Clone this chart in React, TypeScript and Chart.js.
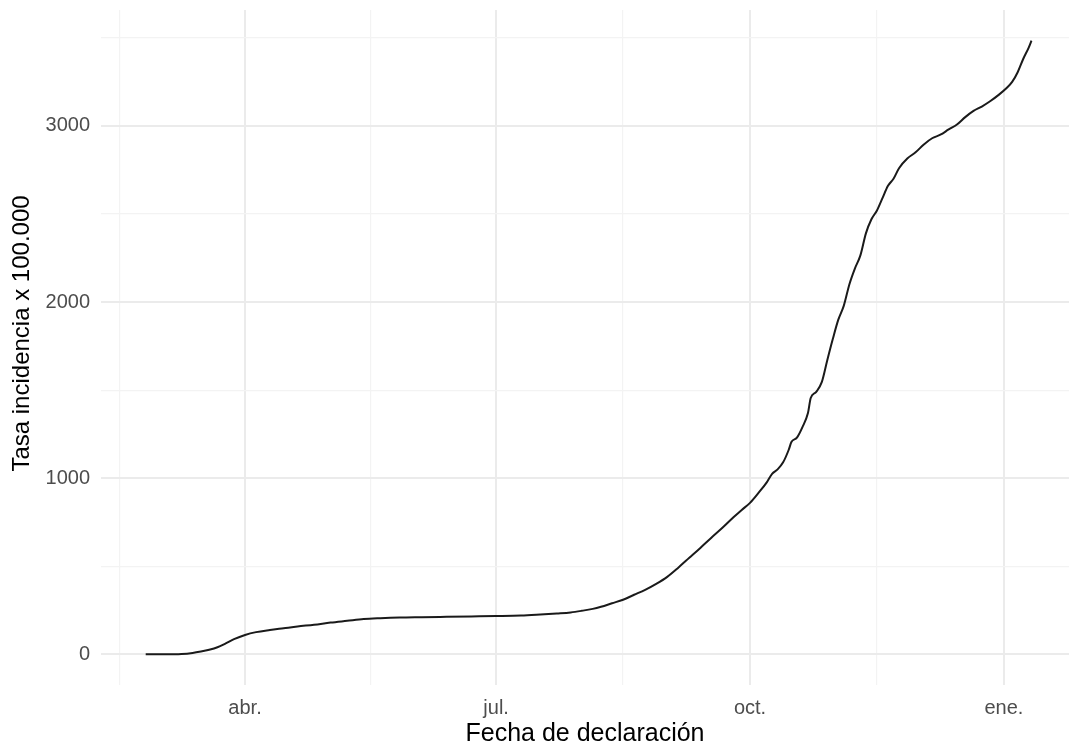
import { useEffect, useRef } from "react";
import { Chart, registerables } from "chart.js";
Chart.register(...registerables);

// Fecha de declaración (daily cumulative incidence readings)
const dates = [
  "2020-02-25", "2020-03-03", "2020-03-09", "2020-03-13", "2020-03-16", "2020-03-19",
  "2020-03-22", "2020-03-25", "2020-03-28", "2020-04-01", "2020-04-05", "2020-04-10",
  "2020-04-15", "2020-04-20", "2020-04-26", "2020-05-02", "2020-05-08", "2020-05-14",
  "2020-05-20", "2020-05-27", "2020-06-04", "2020-06-13", "2020-06-22", "2020-07-01",
  "2020-07-10", "2020-07-17", "2020-07-23", "2020-07-28", "2020-08-01", "2020-08-05",
  "2020-08-08", "2020-08-12", "2020-08-16", "2020-08-20", "2020-08-24", "2020-08-28",
  "2020-09-01", "2020-09-05", "2020-09-09", "2020-09-13", "2020-09-17", "2020-09-21",
  "2020-09-25", "2020-09-28", "2020-10-01", "2020-10-04", "2020-10-07", "2020-10-09",
  "2020-10-11", "2020-10-13", "2020-10-15", "2020-10-16", "2020-10-18", "2020-10-20",
  "2020-10-22", "2020-10-23", "2020-10-25", "2020-10-27", "2020-10-29", "2020-10-31",
  "2020-11-02", "2020-11-04", "2020-11-06", "2020-11-08", "2020-11-10", "2020-11-12",
  "2020-11-14", "2020-11-16", "2020-11-18", "2020-11-20", "2020-11-22", "2020-11-24",
  "2020-11-27", "2020-11-30", "2020-12-03", "2020-12-06", "2020-12-09", "2020-12-12",
  "2020-12-15", "2020-12-18", "2020-12-21", "2020-12-24", "2020-12-27", "2020-12-30",
  "2021-01-02", "2021-01-04", "2021-01-06", "2021-01-08", "2021-01-10", "2021-01-11",
];

// Tasa incidencia x 100.000
const tasa = [
  0, 0, 2, 8, 16, 26,
  40, 62, 86, 110, 126, 138,
  148, 158, 168, 180, 190, 200,
  205, 209, 211, 213, 215, 217,
  220, 226, 232, 238, 247, 258,
  270, 290, 310, 338, 366, 400,
  440, 492, 548, 604, 662, 718,
  778, 820, 860, 915, 975, 1025,
  1050, 1090, 1160, 1205, 1230, 1290,
  1370, 1455, 1490, 1545, 1670, 1790,
  1900, 1980, 2100, 2190, 2265, 2390,
  2470, 2520, 2590, 2660, 2700, 2760,
  2815, 2850, 2895, 2930, 2950, 2980,
  3008, 3050, 3085, 3110, 3140, 3175,
  3215, 3250, 3305, 3380, 3445, 3484,
];

const xBreakDates = ["2020-01-01", "2020-04-01", "2020-07-01", "2020-10-01", "2021-01-01"];
const xBreakLabels = ["ene.", "abr.", "jul.", "oct.", "ene."];
const yBreaks = [0, 1000, 2000, 3000];
const yMinorBreaks = [500, 1500, 2500, 3500];

const xTitle = "Fecha de declaración";
const yTitle = "Tasa incidencia x 100.000";

const dayNum = (s: string) => {
  const [y, m, d] = s.split("-").map(Number);
  return (Date.UTC(y, m - 1, d) - Date.UTC(2020, 0, 1)) / 86400000;
};

const FONT = "'Liberation Sans', Arial, sans-serif";

const yTitlePlugin = {
  id: "yTitleDraw",
  afterDraw(chart: any) {
    const { ctx, chartArea } = chart;
    ctx.save();
    ctx.font = `24px ${FONT}`;
    ctx.fillStyle = "#000000";
    ctx.textAlign = "center";
    ctx.textBaseline = "middle";
    ctx.translate(22, (chartArea.top + chartArea.bottom) / 2 - 14);
    ctx.rotate(-Math.PI / 2);
    ctx.fillText(yTitle, 0, 0);
    ctx.restore();
  },
};

export default function App() {
  const ref = useRef<HTMLCanvasElement | null>(null);

  useEffect(() => {
    document.body.style.margin = "0";
    const canvas = ref.current;
    if (!canvas) return;

    const xs = dates.map(dayNum);
    const pts = xs.map((x, i) => ({ x, y: tasa[i] }));

    const xMin = 38.8;
    const xMax = 389.6;
    const yLo = Math.min(...tasa);
    const yHi = Math.max(...tasa);
    const yPad = (yHi - yLo) * 0.05;
    const yMin = yLo - yPad;
    const yMax = yHi + yPad;

    const majorX = xBreakDates.map(dayNum);
    const minorX: number[] = [];
    for (let i = 0; i < majorX.length - 1; i++) minorX.push((majorX[i] + majorX[i + 1]) / 2);
    const xTicks = [...majorX, ...minorX].filter((v) => v >= xMin && v <= xMax).sort((a, b) => a - b);
    const isMajorX = (v: number) => majorX.some((m) => Math.abs(m - v) < 1e-6);

    const yTicks = [...yBreaks, ...yMinorBreaks].filter((v) => v >= yMin && v <= yMax).sort((a, b) => a - b);
    const isMajorY = (v: number) => yBreaks.includes(v);

    const chart = new Chart(canvas, {
      type: "line",
      data: {
        datasets: [
          {
            data: pts,
            borderColor: "#1a1a1a",
            borderWidth: 2,
            pointRadius: 0,
            fill: false,
            cubicInterpolationMode: "monotone",
          },
        ],
      },
      options: {
        animation: false,
        responsive: true,
        maintainAspectRatio: false,
        layout: { padding: { top: 10, right: 0, bottom: 0, left: 0 } },
        plugins: { legend: { display: false }, tooltip: { enabled: false } },
        scales: {
          x: {
            type: "linear",
            min: xMin,
            max: xMax,
            afterBuildTicks: (s: any) => {
              s.ticks = xTicks.map((v) => ({ value: v }));
            },
            afterFit: (s: any) => {
              s.height = 64;
              s.paddingLeft = 0;
              s.paddingRight = 0;
            },
            ticks: {
              autoSkip: false,
              maxRotation: 0,
              padding: 11,
              color: "#4D4D4D",
              font: { family: FONT, size: 20 },
              callback: (v: any) => {
                const i = majorX.findIndex((m) => Math.abs(m - Number(v)) < 1e-6);
                return i >= 0 ? xBreakLabels[i] : "";
              },
            },
            grid: {
              drawTicks: false,
              color: (c: any) => (isMajorX(c.tick?.value) ? "#EBEBEB" : "#F3F3F3"),
              lineWidth: (c: any) => (isMajorX(c.tick?.value) ? 2 : 1.2),
            },
            border: { display: false },
            title: {
              display: true,
              text: xTitle,
              color: "#000000",
              font: { family: FONT, size: 25 },
              padding: { top: 0, bottom: 0 },
            },
          },
          y: {
            type: "linear",
            min: yMin,
            max: yMax,
            afterBuildTicks: (s: any) => {
              s.ticks = yTicks.map((v) => ({ value: v }));
            },
            afterFit: (s: any) => {
              s.width = 101;
              s.paddingTop = 0;
              s.paddingBottom = 0;
            },
            ticks: {
              autoSkip: false,
              padding: 11,
              color: "#4D4D4D",
              font: { family: FONT, size: 20 },
              callback: (v: any) => (isMajorY(Number(v)) ? String(v) : ""),
            },
            grid: {
              drawTicks: false,
              color: (c: any) => (isMajorY(c.tick?.value) ? "#EBEBEB" : "#F3F3F3"),
              lineWidth: (c: any) => (isMajorY(c.tick?.value) ? 2 : 1.2),
            },
            border: { display: false },
            title: { display: false },
          },
        },
      },
      plugins: [yTitlePlugin],
    });

    return () => chart.destroy();
  }, []);

  return (
    <div style={{ position: "fixed", left: 0, top: 0, width: 1069, height: 749, background: "#fff" }}>
      <canvas ref={ref} />
    </div>
  );
}
